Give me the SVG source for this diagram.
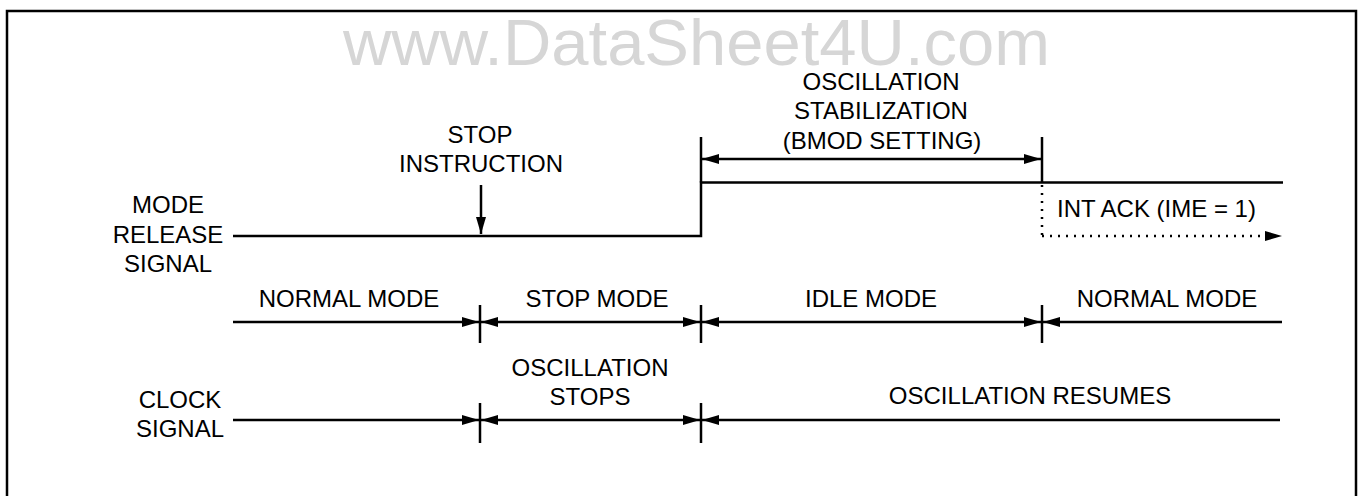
<svg xmlns="http://www.w3.org/2000/svg" width="1359" height="496" viewBox="0 0 1359 496">
<style>
  text { font-family: "Liberation Sans", Arial, sans-serif; font-size: 24px; fill: #000; }
  .c { text-anchor: middle; }
  .wm { font-size: 64px; fill: #d6d6d6; }
  .ln { stroke: #000; stroke-width: 2.5; fill: none; }
  .dot { stroke: #000; stroke-width: 2.5; fill: none; stroke-dasharray: 2 6; }
</style>
<defs>
  <marker id="ah" markerUnits="userSpaceOnUse" markerWidth="17" markerHeight="10" refX="17" refY="5" orient="auto-start-reverse" viewBox="0 0 17 10">
    <path d="M0,0 L17,5 L0,10 z" fill="#000"/>
  </marker>
</defs>
<rect x="7" y="11" width="1349" height="500" fill="#fff" stroke="#000" stroke-width="2.5"/>
<text class="wm" x="343" y="65" textLength="707" lengthAdjust="spacingAndGlyphs">www.DataSheet4U.com</text>

<g id="connectors">
  <!-- mode release signal waveform -->
  <polyline class="ln" points="233,236 701,236 701,182.5 1283,182.5"/>
  <line class="ln" x1="701" y1="182.5" x2="701" y2="137"/>
  <line class="ln" x1="1042" y1="137" x2="1042" y2="182.5"/>
  <line class="ln" x1="702" y1="159" x2="1041" y2="159" marker-start="url(#ah)" marker-end="url(#ah)"/>
  <line class="dot" x1="1042" y1="185" x2="1042" y2="236"/>
  <line class="dot" x1="1042" y1="236" x2="1282" y2="236" marker-end="url(#ah)"/>
  <line class="ln" x1="481" y1="185" x2="481" y2="234" marker-end="url(#ah)"/>
  <!-- mode row -->
  <line class="ln" x1="233" y1="322" x2="479" y2="322" marker-end="url(#ah)"/>
  <line class="ln" x1="481" y1="322" x2="700" y2="322" marker-start="url(#ah)" marker-end="url(#ah)"/>
  <line class="ln" x1="702" y1="322" x2="1041" y2="322" marker-start="url(#ah)" marker-end="url(#ah)"/>
  <line class="ln" x1="1043" y1="322" x2="1282" y2="322" marker-start="url(#ah)"/>
  <line class="ln" x1="480" y1="305" x2="480" y2="343"/>
  <line class="ln" x1="701" y1="305" x2="701" y2="343"/>
  <line class="ln" x1="1042" y1="305" x2="1042" y2="343"/>
  <!-- clock row -->
  <line class="ln" x1="233" y1="420" x2="479" y2="420" marker-end="url(#ah)"/>
  <line class="ln" x1="481" y1="420" x2="700" y2="420" marker-start="url(#ah)" marker-end="url(#ah)"/>
  <line class="ln" x1="702" y1="420" x2="1280" y2="420" marker-start="url(#ah)"/>
  <line class="ln" x1="480" y1="403" x2="480" y2="443"/>
  <line class="ln" x1="701" y1="403" x2="701" y2="443"/>
</g>

<g id="label-mode-release-signal">
  <text class="c" x="168" y="213">MODE</text>
  <text class="c" x="168" y="243">RELEASE</text>
  <text class="c" x="168" y="272">SIGNAL</text>
</g>
<g id="label-stop-instruction">
  <text class="c" x="480" y="143">STOP</text>
  <text class="c" x="481" y="172">INSTRUCTION</text>
</g>
<g id="label-oscillation-stabilization">
  <text class="c" x="881" y="89.5">OSCILLATION</text>
  <text class="c" x="881" y="119">STABILIZATION</text>
  <text class="c" x="882" y="148.5">(BMOD SETTING)</text>
</g>
<g id="label-int-ack">
  <text x="1057" y="217">INT ACK (IME = 1)</text>
</g>
<g id="mode-normal-1"><text class="c" x="349" y="307">NORMAL MODE</text></g>
<g id="mode-stop"><text class="c" x="597" y="307">STOP MODE</text></g>
<g id="mode-idle"><text class="c" x="871" y="307">IDLE MODE</text></g>
<g id="mode-normal-2"><text class="c" x="1167" y="307">NORMAL MODE</text></g>
<g id="label-clock-signal">
  <text class="c" x="180" y="408">CLOCK</text>
  <text class="c" x="180" y="437">SIGNAL</text>
</g>
<g id="clock-oscillation-stops">
  <text class="c" x="590" y="376">OSCILLATION</text>
  <text class="c" x="590" y="405">STOPS</text>
</g>
<g id="clock-oscillation-resumes"><text class="c" x="1030" y="404">OSCILLATION RESUMES</text></g>
</svg>
